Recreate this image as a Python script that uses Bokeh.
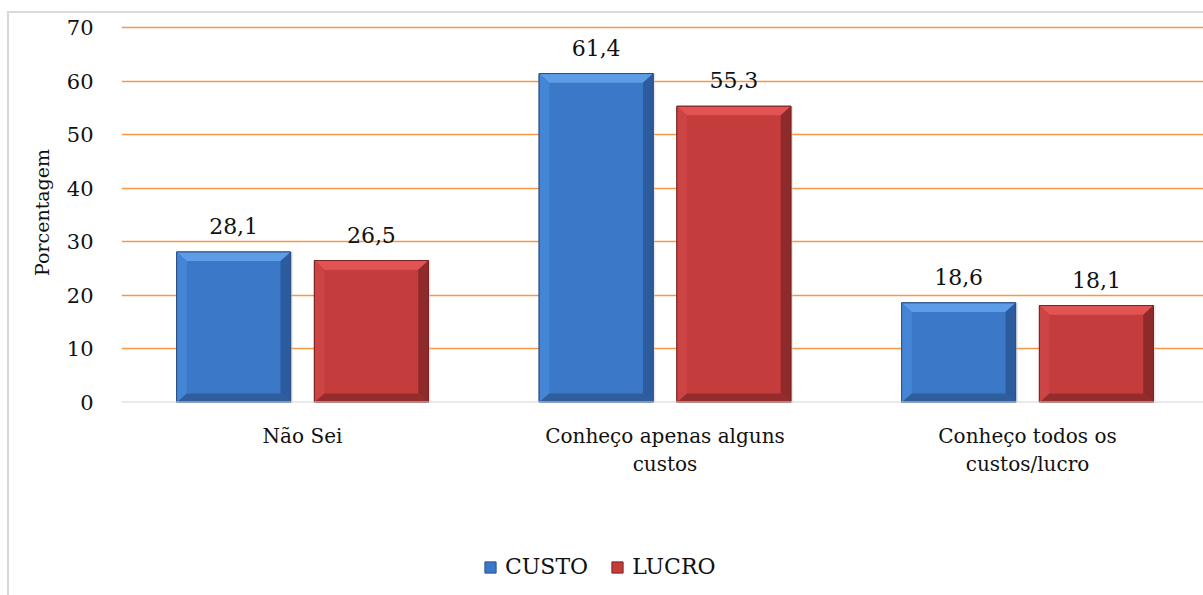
from bokeh.plotting import figure
from bokeh.layouts import column
from bokeh.models import (ColumnDataSource, FixedTicker, Span, Legend, LegendItem)
from bokeh.core.properties import value
from bokeh.embed import file_html
from bokeh.resources import INLINE

# Survey data: knowledge of costs / profit (percent)
categories = ["Não Sei", "Conheço apenas alguns\ncustos", "Conheço todos os\ncustos/lucro"]
custo = [28.1, 61.4, 18.6]
lucro = [26.5, 55.3, 18.1]
series_names = ["CUSTO", "LUCRO"]
y_ticks = [0, 10, 20, 30, 40, 50, 60, 70]

FONT = "DejaVu Serif"
BAR_W = 0.3145
OFFSET = 0.19
BEV_X = 0.028   # bevel width in x units
BEV_Y = 1.7     # bevel height in y units
NAN = float("nan")

p = figure(width=1194, height=479, output_backend="svg", toolbar_location=None,
           x_range=(-0.4993, 2.4855), y_range=(0, 70.93),
           min_border_left=112, min_border_right=0, min_border_top=9, min_border_bottom=90,
           outline_line_color=None, background_fill_color="white", border_fill_color="white")

palettes = {
    "CUSTO": dict(main="#3c78c8", top="#5d9ce6", left="#4585d6", right="#2d5c9e",
                  bottom="#2f5e9c", line="#2a4f82"),
    "LUCRO": dict(main="#c43c3c", top="#e25454", left="#cc4444", right="#8f2a2a",
                  bottom="#952c2c", line="#7a2424"),
}

for name, vals, off in [("CUSTO", custo, -OFFSET), ("LUCRO", lucro, OFFSET)]:
    c = palettes[name]
    xs = [i + off for i in range(len(vals))]
    left = [x - BAR_W / 2 for x in xs]
    right = [x + BAR_W / 2 for x in xs]
    src = ColumnDataSource(dict(left=left, right=right, top=vals, bottom=[0] * len(vals),
                                x=xs, label=[f"{v:.1f}".replace(".", ",") for v in vals]))
    # faint shadow
    p.quad(left=[l + 0.006 for l in left], right=[r + 0.006 for r in right], top=vals,
           bottom=[-0.5] * len(vals), fill_color="#d0d0d0", fill_alpha=0.5, line_color=None)
    p.quad(left="left", right="right", top="top", bottom="bottom", source=src,
           fill_color=c["main"], line_color=c["line"], line_width=1)
    # bevel facets
    tops_x, tops_y, lefts_x, lefts_y, rights_x, rights_y, bots_x, bots_y = ([] for _ in range(8))
    for l, r, t in zip(left, right, vals):
        tops_x.append([l, r, r - BEV_X, l + BEV_X]); tops_y.append([t, t, t - BEV_Y, t - BEV_Y])
        lefts_x.append([l, l + BEV_X, l + BEV_X, l]); lefts_y.append([t, t - BEV_Y, BEV_Y, 0])
        rights_x.append([r, r - BEV_X, r - BEV_X, r]); rights_y.append([t, t - BEV_Y, BEV_Y, 0])
        bots_x.append([l, r, r - BEV_X, l + BEV_X]); bots_y.append([0, 0, BEV_Y, BEV_Y])
    p.patches(tops_x, tops_y, fill_color=c["top"], line_color=None)
    p.patches(lefts_x, lefts_y, fill_color=c["left"], line_color=None)
    p.patches(rights_x, rights_y, fill_color=c["right"], line_color=None)
    p.patches(bots_x, bots_y, fill_color=c["bottom"], line_color=None)
    p.quad(left="left", right="right", top="top", bottom="bottom", source=src,
           fill_color=None, line_color=c["line"], line_width=1)
    p.text(x="x", y="top", text="label", source=src, text_align="center",
           text_baseline="alphabetic", y_offset=-26, text_font=value(FONT),
           text_font_style="normal", text_font_size="22px", text_color="#111111")

# x axis with category names (multi-line)
p.xaxis.ticker = FixedTicker(ticks=[0, 1, 2])
p.xaxis.major_label_overrides = {i: c for i, c in enumerate(categories)}
p.xaxis.major_label_text_font = FONT
p.xaxis.major_label_text_font_style = "normal"
p.xaxis.major_label_text_font_size = "20px"
p.xaxis.major_label_text_color = "#111111"
p.xaxis.major_label_standoff = 15
p.xaxis.axis_line_color = None
p.xaxis.major_tick_line_color = None
p.xaxis.minor_tick_line_color = None

p.yaxis.ticker = FixedTicker(ticks=y_ticks)
p.yaxis.major_label_text_font = FONT
p.yaxis.major_label_text_font_style = "normal"
p.yaxis.major_label_text_font_size = "21px"
p.yaxis.major_label_text_color = "#111111"
p.yaxis.major_label_standoff = 22
p.yaxis.axis_line_color = None
p.yaxis.major_tick_line_color = None
p.yaxis.minor_tick_line_color = None
p.yaxis.axis_label = "Porcentagem"
p.yaxis.axis_label_text_font = FONT
p.yaxis.axis_label_text_font_style = "normal"
p.yaxis.axis_label_text_font_size = "19px"
p.yaxis.axis_label_text_color = "#111111"
p.yaxis.axis_label_standoff = 11

p.xgrid.grid_line_color = None
p.ygrid.ticker = FixedTicker(ticks=y_ticks[1:])
p.ygrid.grid_line_color = "#f79646"
p.ygrid.grid_line_width = 1.5
p.add_layout(Span(location=0, dimension="width", line_color="#d4d4d4", line_width=2), "center")

# legend strip under the chart; its swatch renderers hold no drawable geometry
leg = figure(width=1194, height=103, output_backend="svg", toolbar_location=None,
             x_range=(0, 1), y_range=(0, 1), x_axis_type=None, y_axis_type=None,
             min_border=0, outline_line_color=None, background_fill_color="white",
             border_fill_color="white")
leg.grid.visible = False
legend_items = []
for name in series_names:
    c = palettes[name]
    r = leg.quad(left=[NAN], right=[NAN], top=[NAN], bottom=[NAN], fill_color=c["main"],
                 line_color=c["line"], line_width=1)
    legend_items.append(LegendItem(label=name, renderers=[r]))
legend = Legend(items=legend_items, orientation="horizontal", location=(362, 16),
                label_text_font=FONT, label_text_font_style="normal",
                label_text_font_size="22px", label_text_color="#111111",
                glyph_width=14, glyph_height=14, label_standoff=8, spacing=22,
                padding=5, margin=0, border_line_color=None, background_fill_alpha=0)
leg.add_layout(legend, "center")

page = column(p, leg, spacing=0)
page.margin = (11, 0, 0, 7)
page.styles = {"border-top": "2px solid #d9d9d9", "border-left": "2px solid #d9d9d9"}

open("out.html", "w").write(file_html(page, INLINE))
